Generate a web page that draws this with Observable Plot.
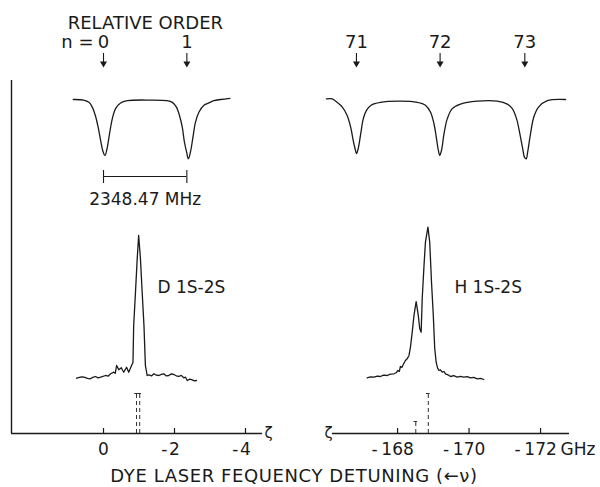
<!DOCTYPE html>
<html><head><meta charset="utf-8">
<script src="https://cdn.jsdelivr.net/npm/d3@7"></script>
<script src="https://cdn.jsdelivr.net/npm/@observablehq/plot@0.6"></script>
<style>
html,body{margin:0;padding:0;background:#fff;}
#wrap{position:relative;width:600px;height:487px;overflow:hidden;font-family:"DejaVu Sans",sans-serif;color:#1a1a1a;background:#fff;}
#left,#right{position:absolute;top:0;}
#left{left:0;} #right{left:300px;}
#title{position:absolute;left:0;width:588px;top:467px;line-height:18px;text-align:center;font-size:18px;letter-spacing:0.6px;white-space:nowrap;}
</style></head><body>
<div id="wrap"><div id="left"></div><div id="right"></div><div id="title">DYE LASER FEQUENCY DETUNING (←ν)</div></div>
<script>
// ---------- data (x in GHz detuning) ----------
// Fabry-Perot marker traces: [detuning GHz, relative transmission (1 = flat, 0 = dip bottom)]
const markerD = [[0.85,1.00],[0.56,0.99],[0.41,0.95],[0.32,0.87],[0.23,0.72],[0.15,0.51],[0.08,0.28],[0.02,0.10],[-0.04,0.02],[-0.10,0.14],[-0.17,0.40],[-0.25,0.67],[-0.34,0.84],[-0.48,0.94],[-0.67,0.98],[-1.32,0.99],[-1.79,0.98],[-1.94,0.95],[-2.05,0.87],[-2.14,0.72],[-2.22,0.51],[-2.28,0.25],[-2.34,0.08],[-2.39,-0.04],[-2.45,0.08],[-2.52,0.34],[-2.59,0.60],[-2.69,0.78],[-2.83,0.90],[-2.97,0.94],[-3.11,0.98],[-3.30,1.00],[-3.56,1.02]];
const markerH = [[-166.01,1.01],[-166.17,1.01],[-166.31,0.95],[-166.45,0.87],[-166.59,0.72],[-166.69,0.51],[-166.76,0.28],[-166.81,0.14],[-166.85,0.05],[-166.90,0.14],[-166.97,0.40],[-167.04,0.66],[-167.13,0.81],[-167.26,0.90],[-167.52,0.95],[-168.08,0.97],[-168.55,0.95],[-168.78,0.90],[-168.92,0.78],[-169.02,0.57],[-169.09,0.31],[-169.14,0.11],[-169.18,0.02],[-169.23,0.11],[-169.30,0.40],[-169.39,0.66],[-169.53,0.84],[-169.76,0.92],[-170.23,0.97],[-170.79,0.97],[-171.07,0.92],[-171.21,0.84],[-171.33,0.66],[-171.42,0.40],[-171.50,0.14],[-171.55,-0.01],[-171.60,-0.04],[-171.64,0.08],[-171.72,0.40],[-171.81,0.69],[-171.95,0.87],[-172.19,0.98],[-172.70,1.00]];
// 1S-2S two-photon spectra: [detuning GHz, signal (% of D peak)]
const specD = [[0.76,0.2],[0.62,1.2],[0.55,0.9],[0.45,0.1],[0.37,-0.2],[0.30,0.8],[0.23,1.4],[0.15,0.4],[0.08,0.9],[-0.06,2.1],[-0.13,1.6],[-0.20,3.3],[-0.29,4.4],[-0.33,3.6],[-0.37,9.1],[-0.43,6.1],[-0.50,7.5],[-0.57,4.4],[-0.65,7.9],[-0.71,4.4],[-0.79,9.1],[-0.83,11.2],[-0.85,37],[-0.90,60],[-0.95,84],[-0.99,100],[-1.04,84],[-1.09,60],[-1.14,37],[-1.18,9.1],[-1.23,2.1],[-1.28,2.6],[-1.35,1.8],[-1.42,3.3],[-1.49,2.3],[-1.56,2.1],[-1.63,2.9],[-1.70,3.3],[-1.77,1.8],[-1.84,2.1],[-1.91,3.2],[-1.98,2.8],[-2.05,1.9],[-2.12,1.4],[-2.19,2.2],[-2.26,0.5],[-2.31,0.9],[-2.36,-1.4],[-2.43,-0.4],[-2.50,-0.9],[-2.56,-1.6],[-2.62,-1.4]];
const specH = [[-167.15,0.5],[-167.24,1.2],[-167.34,0.9],[-167.43,1.6],[-167.52,1.4],[-167.61,2.4],[-167.71,2.1],[-167.80,3.1],[-167.90,3.3],[-167.96,4.0],[-168.01,5.6],[-168.05,5.0],[-168.08,8.4],[-168.12,7.8],[-168.16,9.8],[-168.22,12.6],[-168.27,13.8],[-168.32,16.1],[-168.36,21.7],[-168.41,32.4],[-168.46,44.1],[-168.52,53.8],[-168.58,44.1],[-168.62,35.0],[-168.66,32.4],[-168.69,55.9],[-168.74,79.0],[-168.78,95.3],[-168.85,105.8],[-168.90,95.3],[-168.95,67.3],[-169.00,44.1],[-169.04,21.0],[-169.08,11.4],[-169.12,7.2],[-169.16,5.6],[-169.20,6.1],[-169.25,4.4],[-169.30,4.9],[-169.34,3.3],[-169.41,2.6],[-169.48,1.4],[-169.57,2.0],[-169.67,0.9],[-169.76,1.5],[-169.85,0.9],[-169.95,1.3],[-170.04,0.5],[-170.13,0.8],[-170.23,-0.2],[-170.32,0.1],[-170.41,-0.7]];
// theoretical line positions: [detuning GHz, relative strength]
const theoryD = [[-0.93,1],[-1.02,1]];
const theoryH = [[-168.51,0.3],[-168.86,1]];
// interferometer orders
const ordersD = [0, -2.348];
const orderLabelsD = ["0", "1"];
const ordersH = [-166.85, -169.19, -171.56];
const orderLabelsH = ["71", "72", "73"];
// axis ticks
const ticksD = [0, -2, -4];
const ticksH = [-168, -170, -172];
const spacingLabel = "2348.47 MHz";
const peakLabelD = "D 1S-2S";
const peakLabelH = "H 1S-2S";

// ---------- layout helpers (display units above the baseline) ----------
const fpY = d => 277 + 57 * d[1];      // marker trace placement
const spY = d => 55 + 1.43 * d[1];     // spectrum placement
const thY = d => 40 * d[1];            // theory marker height
const FONT = '"DejaVu Sans", sans-serif';
const INK = "#1a1a1a";

function panel(o) {
  return Plot.plot({
    width: 300, height: 462,
    marginLeft: o.ml, marginRight: o.mr, marginTop: 0, marginBottom: 29,
    x: {domain: o.domain},
    y: {domain: [0, 433], axis: null},
    style: {fontFamily: FONT, fontSize: "17px", color: INK, background: "transparent", overflow: "visible"},
    marks: [
      Plot.ruleY([0], {stroke: INK, strokeWidth: 1.4}),
      Plot.ruleX(o.ticks, {y1: 0, y2: 5, stroke: INK, strokeWidth: 1.2}),
      Plot.axisX({ticks: o.ticks, tickSize: 0, tickPadding: 9, tickFormat: d => String(Math.abs(d)), fontSize: 17}),
      Plot.text(o.ticks.filter(d => d < 0), {x: d => d, y: 0, text: () => "-", dy: 9, dx: o.minusDx, lineAnchor: "top", textAnchor: "end", fontSize: 17}),
      ...o.extra,
      // marker trace
      Plot.line(o.marker, {x: d => d[0], y: fpY, stroke: INK, strokeWidth: 1.3, curve: "catmull-rom"}),
      // order arrows and labels
      Plot.ruleX(o.orders, {y1: 371, y2: 380, stroke: INK, strokeWidth: 1.1}),
      Plot.dot(o.orders, {x: d => d, y: 370, symbol: "triangle", rotate: 180, r: 2.6, fill: INK, stroke: null}),
      Plot.text(o.orders, {x: d => d, y: 386, text: (d, i) => o.orderLabels[i], lineAnchor: "bottom", fontSize: 18}),
      // spectrum
      Plot.line(o.spec, {x: d => d[0], y: spY, stroke: INK, strokeWidth: 1.3}),
      // theory markers (dashed line with a T cap)
      Plot.ruleX(o.theory, {x: d => d[0], y1: 0, y2: thY, stroke: INK, strokeWidth: 0.9, strokeDasharray: "4,3"}),
      Plot.ruleY(o.theory, {y: thY, x1: d => d[0] + 0.05, x2: d => d[0] - 0.05, stroke: INK, strokeWidth: 0.9})
    ]
  });
}

const left = panel({
  ml: 11, mr: 38, domain: [2.592, -4.479], ticks: ticksD, minusDx: -7,
  marker: markerD, spec: specD, theory: theoryD, orders: ordersD, orderLabels: orderLabelsD,
  extra: [
    Plot.ruleX([2.592], {y1: 0, y2: 353, stroke: INK, strokeWidth: 1.4}),
    Plot.text(["ζ"], {x: -4.65, y: 0, text: d => d, fontSize: 15}),
    Plot.text(["RELATIVE ORDER"], {x: 1.01, y: 405, text: d => d, textAnchor: "start", lineAnchor: "bottom", fontSize: 18, letterSpacing: 0.3}),
    Plot.text(["n ="], {x: ordersD[0], y: 386, text: d => d, dx: -10, textAnchor: "end", lineAnchor: "bottom", fontSize: 18}),
    Plot.ruleY([257], {x1: ordersD[0], x2: ordersD[1], stroke: INK, strokeWidth: 1.1}),
    Plot.ruleX(ordersD, {y1: 250, y2: 263, stroke: INK, strokeWidth: 1.1}),
    Plot.text([spacingLabel], {x: (ordersD[0] + ordersD[1]) / 2, y: 229, text: d => d, lineAnchor: "bottom", fontSize: 17}),
    Plot.text([peakLabelD], {x: -1.52, y: 141, text: d => d, textAnchor: "start", lineAnchor: "bottom", fontSize: 17})
  ]
});
const right = panel({
  ml: 32, mr: 31, domain: [-166.18, -172.81], ticks: ticksH, minusDx: -20,
  marker: markerH, spec: specH, theory: theoryH, orders: ordersH, orderLabels: orderLabelsH,
  extra: [
    Plot.text(["ζ"], {x: -166.07, y: 0, text: d => d, fontSize: 15}),
    Plot.text(["GHz"], {x: ticksH[2], y: 0, text: d => d, dx: 20, dy: 9, textAnchor: "start", lineAnchor: "top", fontSize: 17}),
    Plot.text([peakLabelH], {x: -169.59, y: 141, text: d => d, textAnchor: "start", lineAnchor: "bottom", fontSize: 17})
  ]
});
document.getElementById("left").appendChild(left);
document.getElementById("right").appendChild(right);
</script>
</body></html>
